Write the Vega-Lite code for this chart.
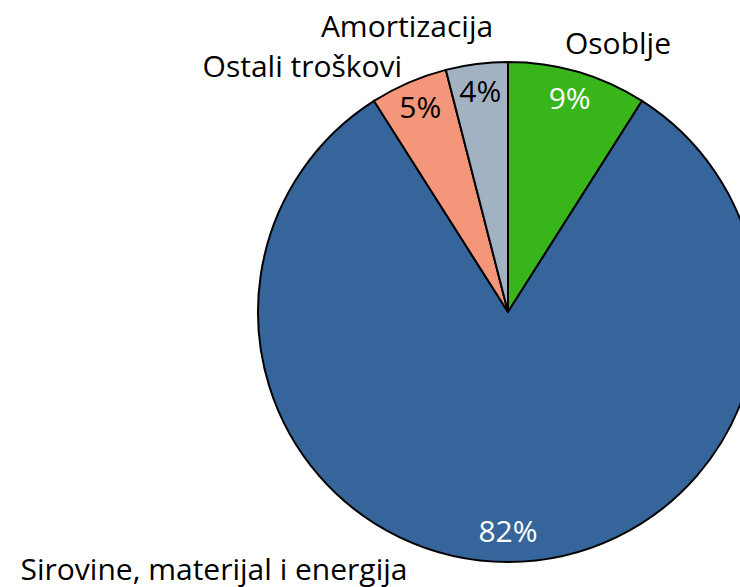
{
  "$schema": "https://vega.github.io/schema/vega-lite/v6.json",
  "width": 740,
  "height": 587,
  "autosize": "none",
  "padding": 0,
  "background": "white",
  "config": {"view": {"stroke": null}, "text": {"font": "Open Sans"}},
  "data": {
    "values": [
      {"cat": "Osoblje", "value": 0.09, "order": 1},
      {"cat": "Sirovine, materijal i energija", "value": 0.82, "order": 2},
      {"cat": "Ostali troškovi", "value": 0.05, "order": 3},
      {"cat": "Amortizacija", "value": 0.04, "order": 4}
    ]
  },
  "encoding": {
    "theta": {"field": "value", "type": "quantitative", "stack": true},
    "order": {"field": "order", "type": "quantitative"}
  },
  "layer": [
    {
      "mark": {"type": "arc", "x": 508, "y": 312, "radius": 250, "stroke": "black", "strokeWidth": 2},
      "encoding": {
        "color": {
          "field": "cat", "type": "nominal", "legend": null,
          "scale": {
            "domain": ["Osoblje", "Sirovine, materijal i energija", "Ostali troškovi", "Amortizacija"],
            "range": ["#37b51b", "#35659a", "#f3967a", "#a3b2c3"]
          }
        }
      }
    },
    {
      "mark": {"type": "text", "x": 508, "y": 312, "radius": 221, "fontSize": 30, "align": "center", "baseline": "middle"},
      "encoding": {
        "text": {"field": "value", "type": "quantitative", "format": ".0%"},
        "color": {"condition": {"test": "datum.order <= 2", "value": "white"}, "value": "black"}
      }
    },
    {
      "mark": {"type": "text", "x": 508, "y": 312, "radius": 276, "dx": 33, "dy": -2, "fontSize": 30, "align": "center", "baseline": "middle", "color": "black"},
      "encoding": {"text": {"condition": {"test": "datum.cat === 'Osoblje'", "field": "cat", "type": "nominal"}, "value": ""}}
    },
    {
      "mark": {"type": "text", "x": 508, "y": 312, "radius": 287, "dx": -65, "dy": 1, "fontSize": 30, "align": "center", "baseline": "middle", "color": "black"},
      "encoding": {"text": {"condition": {"test": "datum.cat === 'Amortizacija'", "field": "cat", "type": "nominal"}, "value": ""}}
    },
    {
      "mark": {"type": "text", "x": 508, "y": 312, "radius": 266, "dx": -100, "fontSize": 30, "align": "center", "baseline": "middle", "color": "black"},
      "encoding": {"text": {"condition": {"test": "datum.cat === 'Ostali troškovi'", "field": "cat", "type": "nominal"}, "value": ""}}
    },
    {
      "mark": {"type": "text", "x": 508, "y": 312, "radius": 259, "dx": -294, "fontSize": 30, "align": "center", "baseline": "middle", "color": "black"},
      "encoding": {"text": {"condition": {"test": "datum.cat === 'Sirovine, materijal i energija'", "field": "cat", "type": "nominal"}, "value": ""}}
    }
  ]
}
